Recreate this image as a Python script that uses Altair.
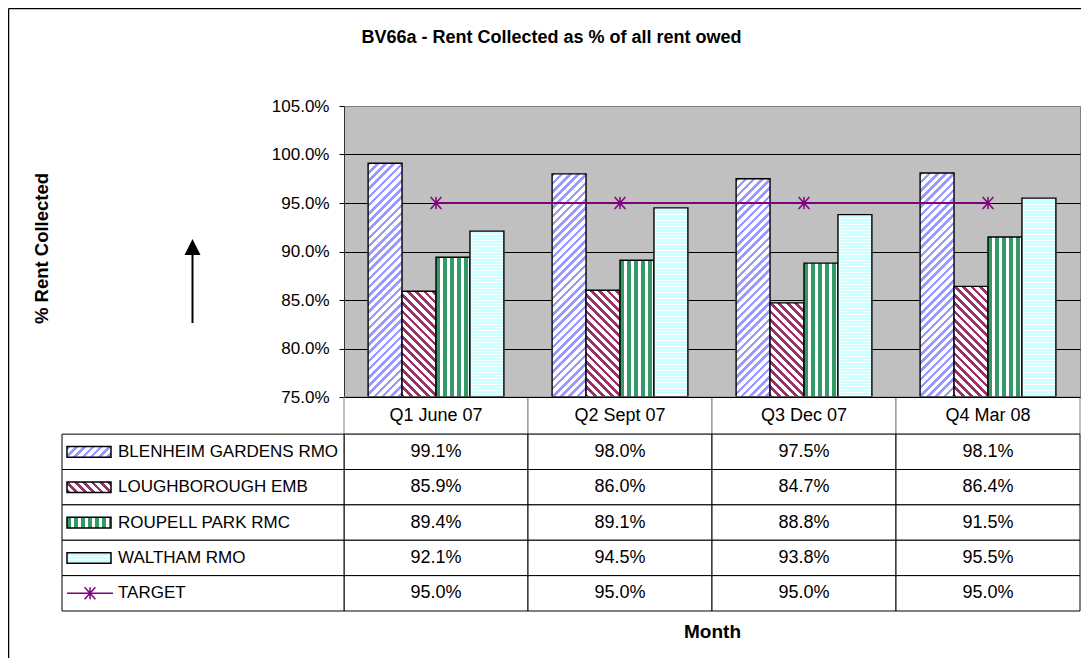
import altair as alt

# ---------------- data ----------------
quarters = ["Q1 June 07", "Q2 Sept 07", "Q3 Dec 07", "Q4 Mar 08"]
series = ["BLENHEIM GARDENS RMO", "LOUGHBOROUGH EMB", "ROUPELL PARK RMC", "WALTHAM RMO"]
blenheim = [99.1, 98.0, 97.5, 98.1]
loughborough = [85.9, 86.0, 84.7, 86.4]
roupell = [89.4, 89.1, 88.8, 91.5]
waltham = [92.1, 94.5, 93.8, 95.5]
target_name = "TARGET"
target = [95.0, 95.0, 95.0, 95.0]
y_ticks = [75, 80, 85, 90, 95, 100, 105]
chart_title = "BV66a - Rent Collected as % of all rent owed"
y_title = "% Rent Collected"
x_title = "Month"

series_values = [blenheim, loughborough, roupell, waltham]

# ---------------- layout / style ----------------
W, H = 736, 291
Y0, Y1 = 75, 105
PAD_IN = 0.262
BAR_W = W / 4 * (1 - PAD_IN) / 4
SW_W, SW_H = 44, 10.6
FONT = "Liberation Sans"
PURPLE = "#800080"

patterns = [
    dict(kind="up", ink="#9999FF", paper="#FFFFFF", period=8.2, width=3.6),
    dict(kind="down", ink="#993366", paper="#FFFFFF", period=8.4, width=3.8),
    dict(kind="vertical", ink="#339966", paper="#FFFFFF", period=7.0, width=3.6),
    dict(kind="horizontal", ink="#FFFFFF", paper="#CCFFFF", period=3.0, width=1.0),
]


def stripes(p, w, h):
    """Hatch fill built from a hard-stop linear gradient (bbox units)."""
    kind, P, sw = p["kind"], p["period"], p["width"]
    r = h / w
    if kind == "up":
        L = w + h
        m = (w + h) / (w * (1 + r * r))
        g = dict(x1=0, y1=0, x2=m, y2=m * r)
    elif kind == "down":
        L = w + h
        m = (w + h) / (w * (1 + r * r))
        g = dict(x1=0, y1=1, x2=m, y2=1 - m * r)
    elif kind == "vertical":
        L = w
        g = dict(x1=0, y1=0, x2=1, y2=0)
    else:
        L = h
        g = dict(x1=0, y1=0, x2=0, y2=1)
    stops = []
    k = 0
    while k * P < L:
        a = k * P / L
        b = min((k * P + sw) / L, 1.0)
        c = min((k + 1) * P / L, 1.0)
        stops += [
            {"offset": round(a, 5), "color": p["ink"]},
            {"offset": round(b, 5), "color": p["ink"]},
            {"offset": round(b, 5), "color": p["paper"]},
            {"offset": round(c, 5), "color": p["paper"]},
        ]
        k += 1
    g.update(gradient="linear", stops=stops)
    return g


# ---------------- tables built from the arrays ----------------
bar_rows = []
for si, (name, vals) in enumerate(zip(series, series_values)):
    for q, v in zip(quarters, vals):
        h = (v - Y0) / (Y1 - Y0) * H
        bar_rows.append({"quarter": q, "series": name, "value": v,
                         "paint": stripes(patterns[si], BAR_W, h)})

target_rows = [{"quarter": q, "target": t} for q, t in zip(quarters, target)]

labels = series + [target_name]
all_vals = series_values + [target]
cell_rows = []
for i, vals in enumerate(all_vals):
    for q, v in zip(quarters, vals):
        cell_rows.append({"quarter": q, "row": i, "value": v})
label_rows = [{"label": lab, "row": i} for i, lab in enumerate(labels)]
swatch_rows = [{"label": s, "row": i, "paint": stripes(patterns[i], SW_W, SW_H)}
               for i, s in enumerate(series)]
target_legend = [{"label": target_name, "row": len(series)}]
header_rows = [{"quarter": q} for q in quarters]
dummy = alt.Data(values=[{"k": 0}])

# ---------------- scales ----------------
bx = alt.Scale(type="band", domain=quarters, paddingInner=PAD_IN, paddingOuter=PAD_IN / 2)
by = alt.Scale(domain=[Y0, Y1], zero=False, nice=False)
tx = alt.Scale(type="band", domain=quarters, paddingInner=0, paddingOuter=0)
ty = alt.Scale(domain=[-1.05, 5], range=[H, 505], nice=False, zero=False)

x_axis = alt.Axis(labels=False, ticks=False, grid=False, domain=True, domainColor="#000000",
                  domainWidth=1, zindex=1, title=x_title, titleFont=FONT, titleFontSize=19,
                  titleFontWeight="bold", titleColor="#000000", titleX=W / 2, titleY=234,
                  titleBaseline="middle", titleAlign="center")
y_axis = alt.Axis(values=y_ticks, labelExpr="format(datum.value, '.1f') + '%'",
                  labelFont=FONT, labelFontSize=17, labelColor="#000000", labelPadding=10,
                  tickSize=5, tickColor="#000000", domainColor="#333333",
                  grid=True, gridColor=alt.condition("datum.value >= 105", alt.value("#808080"), alt.value("#000000")),
                  title=y_title, titleFont=FONT, titleFontSize=18.5, titleFontWeight="bold",
                  titleColor="#000000", titleAngle=270, titleX=-303, titleY=142,
                  titleAlign="center", titleBaseline="middle")

# ---------------- chart group ----------------
bars = alt.Chart(alt.Data(values=bar_rows)).mark_bar(stroke="#000000", strokeWidth=1.4).encode(
    x=alt.X("quarter:N", sort=quarters, scale=bx, axis=x_axis),
    xOffset=alt.XOffset("series:N", sort=series, scale=alt.Scale(paddingInner=0, paddingOuter=0)),
    y=alt.Y("value:Q", scale=by, axis=y_axis),
    y2=alt.datum(Y0),
    fill=alt.Fill("paint:N", scale=None),
)

target_line = alt.Chart(alt.Data(values=target_rows)).mark_line(color=PURPLE, strokeWidth=2).encode(
    x=alt.X("quarter:N", sort=quarters, scale=bx),
    y=alt.Y("target:Q", scale=by),
)
STAR = "M-0.9,-1L0.9,1M0.9,-1L-0.9,1M0,-1L0,1"
target_pts = alt.Chart(alt.Data(values=target_rows)).mark_point(
    shape=STAR, size=144, filled=False, stroke=PURPLE, strokeWidth=1.5, opacity=1
).encode(
    x=alt.X("quarter:N", sort=quarters, scale=bx),
    y=alt.Y("target:Q", scale=by),
)

arrow_line = alt.Chart(dummy).mark_rule(color="#000000", strokeWidth=2).encode(
    x=alt.value(-151.5), y=alt.value(148), y2=alt.value(217))
arrow_head = alt.Chart(dummy).mark_point(
    shape="M0,-1L1,1L-1,1Z", size=256, filled=True, color="#000000", opacity=1
).encode(x=alt.value(-151.5), y=alt.value(141))

frame_left = alt.Chart(dummy).mark_rule(color="#000000", strokeWidth=1.5).encode(
    x=alt.value(-335.5), y=alt.value(-97.5), y2=alt.value(560))
frame_top = alt.Chart(dummy).mark_rule(color="#000000", strokeWidth=1.5).encode(
    x=alt.value(-335.5), x2=alt.value(W + 2), y=alt.value(-97.5))

title_mark = alt.Chart(dummy).mark_text(
    text=chart_title, font=FONT, fontSize=18, fontWeight="bold", color="#000000",
    align="center", baseline="middle"
).encode(x=alt.value(207.5), y=alt.value(-68))

plot_group = alt.layer(bars, target_line, target_pts, arrow_line, arrow_head,
                       frame_left, frame_top, title_mark)

# ---------------- data table group ----------------
header_cells = alt.Chart(alt.Data(values=header_rows)).transform_calculate(
    r0="-1.05", r1="0"
).mark_rect(fill="#FFFFFF", stroke="#808080", strokeWidth=1).encode(
    x=alt.X("quarter:N", sort=quarters, scale=tx, axis=None),
    y=alt.Y("r0:Q", scale=ty, axis=None),
    y2="r1:Q",
)
header_text = alt.Chart(alt.Data(values=header_rows)).transform_calculate(
    rc="-0.525"
).mark_text(font=FONT, fontSize=18, color="#000000", baseline="middle", align="center").encode(
    x=alt.X("quarter:N", sort=quarters, scale=tx, axis=None),
    y=alt.Y("rc:Q", scale=ty, axis=None),
    text="quarter:N",
)
body_cells = alt.Chart(alt.Data(values=cell_rows)).transform_calculate(
    r0="datum.row", r1="datum.row + 1"
).mark_rect(fill="#FFFFFF", stroke="#000000", strokeWidth=1).encode(
    x=alt.X("quarter:N", sort=quarters, scale=tx, axis=None),
    y=alt.Y("r0:Q", scale=ty, axis=None),
    y2="r1:Q",
)
value_text = alt.Chart(alt.Data(values=cell_rows)).transform_calculate(
    rc="datum.row + 0.5", txt="format(datum.value, '.1f') + '%'"
).mark_text(font=FONT, fontSize=18, color="#000000", baseline="middle", align="center").encode(
    x=alt.X("quarter:N", sort=quarters, scale=tx, axis=None),
    y=alt.Y("rc:Q", scale=ty, axis=None),
    text="txt:N",
)
label_cells = alt.Chart(alt.Data(values=label_rows)).transform_calculate(
    r0="datum.row", r1="datum.row + 1"
).mark_rect(fill="#FFFFFF", stroke="#000000", strokeWidth=1).encode(
    x=alt.value(-282), x2=alt.value(0),
    y=alt.Y("r0:Q", scale=ty, axis=None),
    y2="r1:Q",
)
label_text = alt.Chart(alt.Data(values=label_rows)).transform_calculate(
    rc="datum.row + 0.5"
).mark_text(font=FONT, fontSize=17, color="#000000", baseline="middle", align="left").encode(
    x=alt.value(-226),
    y=alt.Y("rc:Q", scale=ty, axis=None),
    text="label:N",
)
swatches = alt.Chart(alt.Data(values=swatch_rows)).transform_calculate(
    s0="datum.row + 0.35", s1="datum.row + 0.65"
).mark_rect(stroke="#000000", strokeWidth=1.5).encode(
    x=alt.value(-277), x2=alt.value(-277 + SW_W),
    y=alt.Y("s0:Q", scale=ty, axis=None),
    y2="s1:Q",
    fill=alt.Fill("paint:N", scale=None),
)
legend_line = alt.Chart(alt.Data(values=target_legend)).transform_calculate(
    rc="datum.row + 0.5"
).mark_rule(color=PURPLE, strokeWidth=1.5).encode(
    x=alt.value(-277), x2=alt.value(-231),
    y=alt.Y("rc:Q", scale=ty, axis=None),
)
legend_pt = alt.Chart(alt.Data(values=target_legend)).transform_calculate(
    rc="datum.row + 0.5"
).mark_point(shape=STAR, size=144, filled=False, stroke=PURPLE, strokeWidth=1.5, opacity=1).encode(
    x=alt.value(-254),
    y=alt.Y("rc:Q", scale=ty, axis=None),
)

table_group = alt.layer(header_cells, body_cells, label_cells, header_text, value_text,
                        label_text, swatches, legend_line, legend_pt)

chart = alt.layer(plot_group, table_group).resolve_scale(
    x="independent", y="independent"
).properties(
    width=W, height=H,
    autosize=alt.AutoSizeParams(type="none"),
    padding={"left": 336, "top": 98, "right": 1, "bottom": 261},
    background="#FFFFFF",
).configure_view(
    fill="#C0C0C0", stroke="#808080", strokeWidth=1
)

chart.save("out.html", embed_options={"renderer": "svg", "actions": False})
